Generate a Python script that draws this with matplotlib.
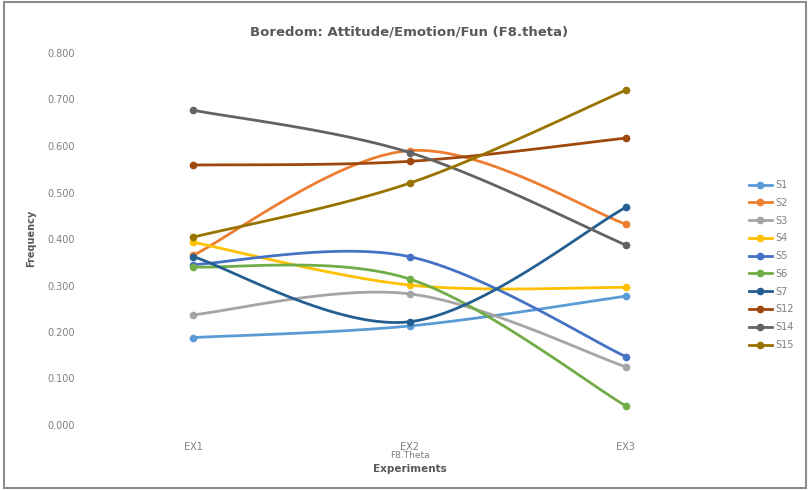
import matplotlib.pyplot as plt
import numpy as np
from matplotlib.patches import Rectangle

# Data
experiments = ["EX1", "EX2", "EX3"]
series = ["S1", "S2", "S3", "S4", "S5", "S6", "S7", "S12", "S14", "S15"]
s1 = [0.188, 0.213, 0.277]
s2 = [0.365, 0.590, 0.432]
s3 = [0.237, 0.282, 0.125]
s4 = [0.393, 0.301, 0.296]
s5 = [0.345, 0.362, 0.147]
s6 = [0.340, 0.314, 0.041]
s7 = [0.362, 0.222, 0.468]
s12 = [0.559, 0.567, 0.617]
s14 = [0.677, 0.586, 0.387]
s15 = [0.404, 0.520, 0.720]
values = [s1, s2, s3, s4, s5, s6, s7, s12, s14, s15]
colors = ["#5B9BD5", "#ED7D31", "#A5A5A5", "#FFC000", "#4472C4",
          "#70AD47", "#255E91", "#9E480E", "#636363", "#997300"]


def smooth(xs, ys, n=60):
    # Excel-like smoothing: Catmull-Rom segments as cubic Bezier
    pts = np.column_stack([np.asarray(xs, float), np.asarray(ys, float)])
    out = []
    t = np.linspace(0, 1, n)[:, None]
    for i in range(len(pts) - 1):
        p0 = pts[max(i - 1, 0)]
        p1 = pts[i]
        p2 = pts[i + 1]
        p3 = pts[min(i + 2, len(pts) - 1)]
        c1 = p1 + (p2 - p0) / 6
        c2 = p2 - (p3 - p1) / 6
        seg = ((1 - t) ** 3) * p1 + 3 * ((1 - t) ** 2) * t * c1 \
            + 3 * (1 - t) * t ** 2 * c2 + t ** 3 * p2
        out.append(seg)
    out = np.vstack(out)
    return out[:, 0], out[:, 1]


fig = plt.figure(figsize=(8.09, 4.90), dpi=100)
ax = fig.add_axes([85 / 809, 1 - 425 / 490, (734 - 85) / 809, (425 - 53) / 490])

x = np.arange(len(experiments))
for name, ys, c in zip(series, values, colors):
    sx, sy = smooth(x, ys)
    ax.plot(sx, sy, color=c, lw=2.0, solid_capstyle="round")
    ax.plot(x, ys, "o", color=c, ms=4.5)
    ax.plot([], [], color=c, lw=2.0, marker="o", ms=4.5, label=name)

ax.set_xlim(-0.5, 2.5)
ax.set_ylim(0, 0.8)
yt = np.arange(0, 0.81, 0.1)
ax.set_yticks(yt)
ax.set_yticklabels([f"{v:.3f}" for v in yt])
ax.set_xticks(x)
ax.set_xticklabels(experiments)
ax.tick_params(axis="x", length=0, labelsize=7, colors="#7f7f7f", pad=12)
ax.tick_params(axis="y", length=0, labelsize=7, colors="#7f7f7f", pad=7)
for s in ax.spines.values():
    s.set_visible(False)

cx = 0.5 * (85 + 734) / 809
fig.text(cx, 1 - 32 / 490, "Boredom: Attitude/Emotion/Fun (F8.theta)",
         ha="center", va="center", fontsize=9.5, fontweight="bold", color="#595959")
fig.text(cx, 1 - 455 / 490, "F8.Theta",
         ha="center", va="center", fontsize=6.5, color="#7f7f7f")
fig.text(cx, 1 - 469 / 490, "Experiments",
         ha="center", va="center", fontsize=7.5, fontweight="bold", color="#595959")
fig.text(31 / 809, 1 - 238 / 490, "Frequency", rotation=90,
         ha="center", va="center", fontsize=7, fontweight="bold", color="#595959")

leg = ax.legend(loc="center left", bbox_to_anchor=(740 / 809, 1 - 265 / 490),
                bbox_transform=fig.transFigure, frameon=False, fontsize=7,
                handlelength=2.4, labelspacing=0.8, handletextpad=0.3)
for t in leg.get_texts():
    t.set_color("#7f7f7f")

fig.patches.append(Rectangle((4 / 809, 2 / 490), 802 / 809, 486 / 490,
                             transform=fig.transFigure, fill=False,
                             edgecolor="#8c8c8c", lw=1.5))

fig.savefig("out.png", dpi=100)
